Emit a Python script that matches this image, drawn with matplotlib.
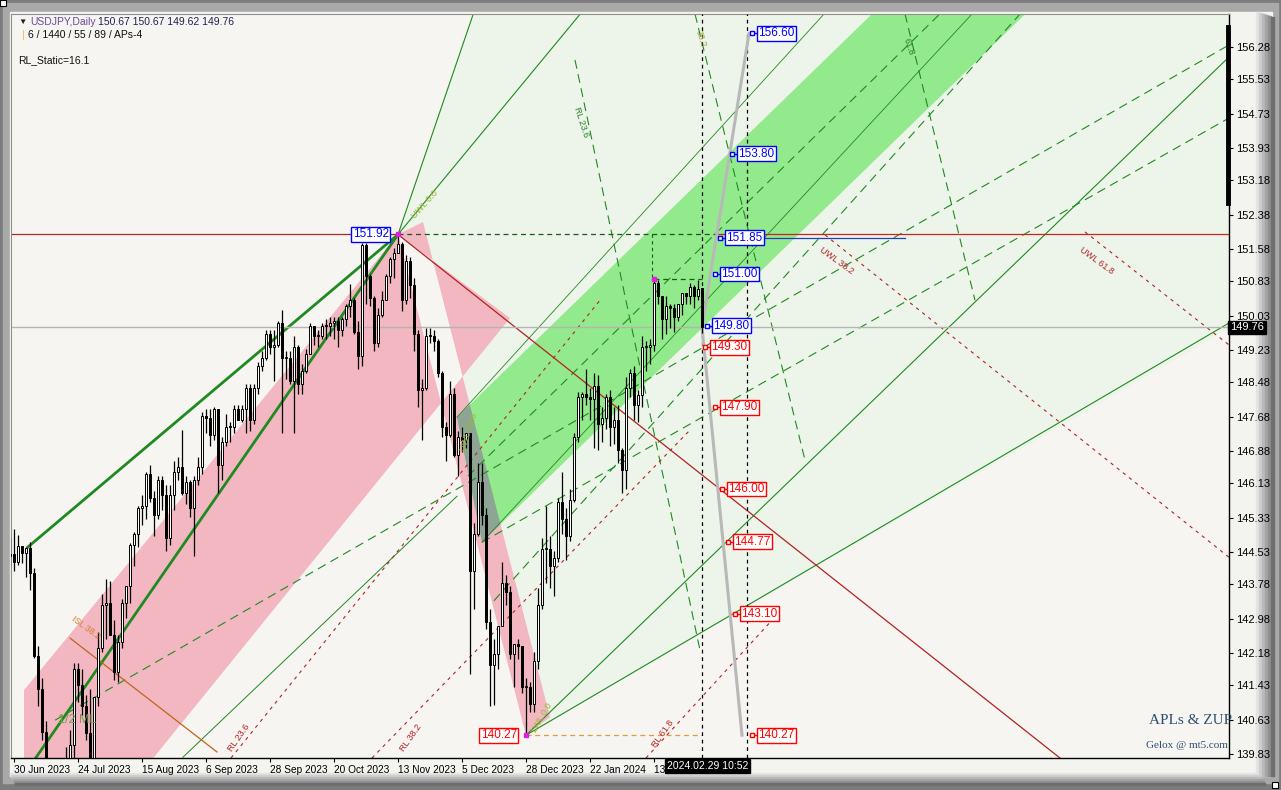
import numpy as np
import pandas as pd
import matplotlib
matplotlib.use("Agg")
import matplotlib.pyplot as plt
from matplotlib.patches import Polygon, Rectangle

# ---- daily bars USDJPY (29 Jun 2023 .. 29 Feb 2024)
dates = [d for d in pd.bdate_range("2023-06-29", "2024-02-29")
         if d.strftime("%m-%d") not in ("12-25", "01-01")]

opens = [144.45, 144.48, 144.30, 144.67, 144.50, 144.62, 144.05, 142.12, 141.35, 140.35,
         138.77, 138.06, 138.80, 138.70, 139.27, 139.70, 140.05, 141.80, 141.45, 140.95,
         140.33, 139.50, 141.15, 142.30, 143.30, 143.35, 142.60, 141.75, 142.45, 143.35,
         143.75, 144.70, 144.95, 145.55, 145.60, 146.35, 145.80, 145.40, 146.20, 145.85,
         144.85, 145.85, 146.40, 146.50, 145.90, 146.15, 145.55, 146.20, 146.50, 147.70,
         147.65, 147.25, 147.85, 146.55, 147.10, 147.45, 147.45, 147.85, 147.60, 147.85,
         148.35, 147.60, 148.35, 148.85, 149.05, 149.60, 149.30, 149.35, 149.85, 149.05,
         149.05, 148.50, 149.30, 148.45, 148.75, 149.15, 149.80, 149.55, 149.55, 149.80,
         149.80, 149.85, 149.90, 149.70, 149.95, 150.25, 150.40, 149.65, 149.10, 151.68,
         150.95, 150.45, 149.40, 150.05, 150.40, 150.95, 151.35, 151.50, 151.70, 150.40,
         151.30, 150.75, 149.60, 148.30, 148.35, 149.55, 149.55, 149.45, 148.70, 147.45,
         147.25, 148.20, 146.80, 147.20, 147.15, 147.30, 144.10, 144.95, 146.15, 145.40,
         142.90, 141.90, 142.15, 142.80, 143.80, 143.60, 142.15, 142.40, 142.35, 141.40,
         141.40, 141.00, 142.00, 143.30, 144.60, 144.60, 144.20, 144.40, 145.70, 145.30,
         144.90, 145.75, 147.20, 148.15, 148.20, 148.15, 148.10, 148.40, 147.50, 147.65,
         148.15, 147.45, 147.60, 146.90, 146.45, 148.35, 148.70, 147.95, 148.18, 149.30,
         149.30, 149.35, 150.80, 150.50, 149.95, 150.25, 150.20, 150.00, 150.30, 150.55,
         150.50, 150.70, 150.50, 150.67]
highs = [144.85, 145.07, 144.92, 144.68, 144.65, 144.77, 144.15, 142.35, 141.60, 140.60,
         139.40, 139.00, 139.25, 139.55, 140.00, 140.40, 141.95, 141.95, 141.80, 141.20,
         141.34, 141.15, 142.67, 143.55, 143.90, 143.85, 142.95, 142.60, 143.45, 143.75,
         144.75, 145.00, 145.60, 145.85, 146.40, 146.56, 145.95, 146.30, 146.30, 146.10,
         146.10, 146.64, 146.75, 147.37, 146.30, 146.20, 146.30, 146.75, 147.80, 147.85,
         147.85, 147.90, 147.85, 147.20, 147.75, 147.55, 147.95, 147.95, 147.95, 148.45,
         148.45, 148.45, 148.95, 149.20, 149.70, 149.70, 149.70, 149.90, 150.16, 149.20,
         149.20, 149.55, 149.35, 148.90, 149.25, 149.85, 149.80, 149.70, 149.85, 149.95,
         150.00, 150.00, 150.00, 150.00, 150.30, 150.77, 150.45, 149.90, 151.72, 151.72,
         151.00, 150.50, 150.20, 150.60, 151.00, 151.40, 151.60, 151.92, 151.75, 151.45,
         151.40, 150.90, 149.70, 148.55, 149.75, 149.75, 149.70, 149.50, 148.75, 147.55,
         148.50, 148.35, 147.35, 147.45, 147.30, 147.30, 145.20, 146.60, 146.60, 145.55,
         143.20, 142.50, 142.80, 144.30, 144.00, 143.75, 142.40, 142.50, 142.35, 141.60,
         141.50, 142.20, 143.70, 144.85, 145.60, 144.90, 144.55, 145.80, 146.40, 145.55,
         146.00, 147.30, 148.25, 148.25, 148.80, 148.35, 148.70, 148.65, 147.90, 148.20,
         148.30, 147.90, 147.95, 146.95, 148.60, 148.80, 148.85, 148.30, 149.55, 149.45,
         149.50, 150.88, 150.85, 150.50, 150.50, 150.30, 150.30, 150.30, 150.55, 150.55,
         150.80, 150.75, 150.85, 150.67]
lows = [144.20, 144.10, 144.24, 144.28, 143.95, 143.65, 142.07, 140.95, 140.17, 138.70,
        137.86, 137.24, 138.45, 138.70, 138.78, 139.35, 139.75, 141.05, 140.75, 140.15,
        138.77, 138.05, 140.95, 142.20, 142.50, 142.65, 141.55, 141.50, 142.30, 143.00,
        143.35, 144.20, 144.65, 145.15, 145.30, 145.70, 144.90, 145.30, 145.50, 144.55,
        144.70, 145.50, 146.20, 145.85, 145.65, 145.35, 144.45, 146.10, 146.35, 147.30,
        147.00, 147.15, 145.90, 146.20, 147.00, 147.10, 147.30, 147.60, 147.55, 147.30,
        147.35, 147.50, 148.20, 148.75, 149.00, 149.15, 148.50, 149.30, 147.30, 148.55,
        148.45, 147.30, 148.20, 148.20, 148.70, 149.15, 149.35, 149.30, 149.50, 149.50,
        149.55, 149.50, 149.30, 149.55, 149.80, 150.00, 149.60, 148.80, 148.85, 150.30,
        150.25, 149.20, 149.30, 150.00, 150.40, 150.80, 150.90, 151.50, 150.15, 150.30,
        150.45, 149.20, 147.90, 147.15, 148.30, 149.40, 149.20, 148.60, 147.20, 146.65,
        147.20, 146.75, 146.30, 146.85, 146.95, 141.70, 143.20, 144.90, 145.15, 142.75,
        140.95, 140.98, 141.80, 142.80, 143.30, 142.05, 141.40, 142.05, 141.25, 140.27,
        140.80, 140.80, 141.80, 143.20, 143.80, 143.70, 143.50, 144.30, 144.95, 144.35,
        144.80, 145.70, 147.10, 147.60, 147.95, 147.60, 146.95, 146.90, 147.10, 147.40,
        147.00, 147.05, 146.60, 145.90, 146.00, 148.15, 147.60, 147.55, 147.90, 148.75,
        148.90, 149.20, 150.30, 149.50, 149.60, 149.75, 149.65, 149.90, 150.05, 150.30,
        150.30, 150.20, 150.40, 149.62]
closes = [144.48, 144.30, 144.67, 144.50, 144.62, 144.05, 142.12, 141.35, 140.35, 138.77,
          138.06, 138.80, 138.70, 139.27, 139.70, 140.05, 141.80, 141.45, 140.95, 140.33,
          139.50, 141.15, 142.30, 143.30, 143.35, 142.60, 141.75, 142.45, 143.35, 143.75,
          144.70, 144.95, 145.55, 145.60, 146.35, 145.80, 145.40, 146.20, 145.85, 144.85,
          145.85, 146.40, 146.50, 145.90, 146.15, 145.55, 146.20, 146.50, 147.70, 147.65,
          147.25, 147.85, 146.55, 147.10, 147.45, 147.45, 147.85, 147.60, 147.85, 148.35,
          147.60, 148.35, 148.85, 149.05, 149.60, 149.30, 149.35, 149.85, 149.05, 149.05,
          148.50, 149.30, 148.45, 148.75, 149.15, 149.80, 149.55, 149.55, 149.80, 149.80,
          149.85, 149.90, 149.70, 149.95, 150.25, 150.40, 149.65, 149.10, 151.68, 150.95,
          150.45, 149.40, 150.05, 150.40, 150.95, 151.35, 151.50, 151.70, 150.40, 151.30,
          150.75, 149.60, 148.30, 148.35, 149.55, 149.55, 149.45, 148.70, 147.45, 147.25,
          148.20, 146.80, 147.20, 147.15, 147.30, 144.10, 144.95, 146.15, 145.40, 142.90,
          141.90, 142.15, 142.80, 143.80, 143.60, 142.15, 142.40, 142.35, 141.40, 141.40,
          141.00, 142.00, 143.30, 144.60, 144.60, 144.20, 144.40, 145.70, 145.30, 144.90,
          145.75, 147.20, 148.15, 148.20, 148.15, 148.10, 148.40, 147.50, 147.65, 148.15,
          147.45, 147.60, 146.90, 146.45, 148.35, 148.70, 147.95, 148.18, 149.30, 149.30,
          149.35, 150.80, 150.50, 149.95, 150.25, 150.20, 150.00, 150.30, 150.55, 150.50,
          150.70, 150.50, 150.65, 149.76]

# right axis ticks and bottom date labels
price_ticks = [156.28, 155.53, 154.73, 153.93, 153.18, 152.38, 151.58, 150.83, 150.03, 149.23,
               148.48, 147.68, 146.88, 146.13, 145.33, 144.53, 143.78, 142.98, 142.18, 141.43,
               140.63, 139.83]
date_labels = ["30 Jun 2023", "24 Jul 2023", "15 Aug 2023", "6 Sep 2023", "28 Sep 2023",
               "20 Oct 2023", "13 Nov 2023", "5 Dec 2023", "28 Dec 2023", "22 Jan 2024", "13 Feb 2024"]

# ZUP / APL objects, anchors as (bar, price)
peak = (96, 151.92)
low = (128, 140.27)
feb_high = (160, 150.88)
pale_zone = [(96, 151.92), (115, 157.2), (305, 157.2), (305, 149.8), (128, 140.27), (110.75, 147.67)]
pink_channel = [(2.5, 141.32), (2.5, 139.3), (31.0, 139.3), (124.0, 149.975), (96, 151.92)]
pink_drop = [(96, 151.92), (128, 140.27), (134.0, 140.69), (102.25, 152.21)]
green_band = [(110.75, 147.67), (117.0, 144.76), (263.3, 158.0), (225.0, 158.0)]
solid_lines = [((3.5, 144.65), (96, 151.92), 2.0), ((4.0, 139.55), (96, 151.92), 2.0),
               ((128, 140.27), (303.75, 156.05), 0.8), ((128, 140.27), (303.75, 149.86), 0.8),
               ((96, 151.92), (115, 157.1), 0.8), ((96, 151.92), (142, 157.1), 0.8),
               ((42.25, 139.76), (110.75, 145.83), 0.7),
               ((117.0, 144.76), (240.0, 157.1), 0.6), ((110.75, 147.67), (203.0, 157.1), 0.6)]
dashed_lines = [((10.25, 140.62), (303.75, 156.33)), ((117.0, 144.76), (303.75, 154.63)),
                ((140.25, 155.98), (171.5, 142.25)), ((170.25, 157.05), (197.75, 146.67)),
                ((222.75, 157.05), (240.25, 150.39)),
                ((113.5, 146.3), (232.0, 157.1)), ((120.0, 143.4), (252.0, 157.1))]
red_dashed = [((202.75, 151.91), (303.75, 144.41)), ((267.75, 151.98), (303.75, 149.35)),
              ((54.25, 139.74), (146.5, 150.39)), ((89.5, 139.74), (169.0, 147.37)),
              ((158.0, 139.74), (192.0, 143.2))]
isl_line = [(14, 142.53), (50.75, 139.88)]
zup_up = [(172, 149.76), (183.75, 156.60)]
zup_down = [(172, 149.76), (182.0, 140.27)]
vlines_at = [172, 183.25]

box_prices = [156.60, 153.80, 151.85, 151.00, 149.80, 149.30, 147.90, 146.00, 144.77, 143.10, 140.27]
box_bars = [185.75, 180.75, 177.75, 176.5, 174.5, 174.0, 176.5, 178.25, 179.75, 181.5, 185.75]
box_colors = ["blue"] * 5 + ["red"] * 6

W, H = 1281, 790
plt.rcParams["font.family"] = ["Liberation Sans", "DejaVu Sans"]
fig = plt.figure(figsize=(W / 100, H / 100), dpi=100)
fig.patch.set_facecolor("#7c7c7c")

bg = fig.add_axes([0, 0, 1, 1])
bg.set_xlim(0, W)
bg.set_ylim(H, 0)
bg.axis("off")
bg.add_patch(Rectangle((3, 3), W - 6, H - 10, color="#a9a9a9"))
bg.add_patch(Rectangle((10, 12), 1262, 764, color="#f3f4ef"))
for i, c in enumerate(["#e4e4e4", "#cfcfcf", "#bababa", "#a5a5a5", "#909090", "#6e6e6e"]):
    bg.add_patch(Rectangle((1256 + 3 * i, 12 + i), 3, 764 - i, color=c))
    bg.add_patch(Rectangle((10 + i, 773 + 2 * i), 1250, 2, color=c))
bg.add_patch(Rectangle((0, 0), 6, 6, fc="white", ec="black", lw=0.8))
bg.add_patch(Rectangle((1272, 782), 6, 6, fc="white", ec="black", lw=0.8))

ax = fig.add_axes([11 / W, 1 - 758 / H, (1229 - 11) / W, (758 - 14) / H])
BACK = "#f6f5f2"
ax.set_facecolor(BACK)
ax.set_xlim(-0.75, 303.75)
ax.set_ylim(139.74, 157.05)


def ccw(poly):
    a = sum(p[0] * q[1] - q[0] * p[1] for p, q in zip(poly, poly[1:] + poly[:1]))
    return list(poly) if a > 0 else list(poly)[::-1]


def clip(subject, clipper):
    # convex polygon intersection (Sutherland-Hodgman)
    out = ccw(subject)
    clipper = ccw(clipper)
    n = len(clipper)
    for i in range(n):
        a, b = clipper[i], clipper[(i + 1) % n]
        inp, out = out, []
        def side(p):
            return (b[0] - a[0]) * (p[1] - a[1]) - (b[1] - a[1]) * (p[0] - a[0])
        for j in range(len(inp)):
            p, q = inp[j], inp[(j + 1) % len(inp)]
            sp, sq = side(p), side(q)
            if sp >= 0:
                out.append(p)
            if sp * sq < 0:
                t = sp / (sp - sq)
                out.append((p[0] + t * (q[0] - p[0]), p[1] + t * (q[1] - p[1])))
        if not out:
            break
    return out


# fills (MT5 draws filled objects xor-style: pink over pink clears, pink over green greys)
ax.add_patch(Polygon(pale_zone, closed=True, fc="#edf5ea", ec="none", zorder=0.5))
ax.add_patch(Polygon(pink_channel, closed=True, fc="#f3b7c1", ec="none", zorder=1))
ax.add_patch(Polygon(pink_drop, closed=True, fc="#f3b7c1", ec="none", zorder=1))
ax.add_patch(Polygon(green_band, closed=True, fc="#92ea8c", ec="none", zorder=1))
both_pink = clip(pink_drop, pink_channel)
if len(both_pink) >= 3:
    ax.add_patch(Polygon(both_pink, closed=True, fc=BACK, ec="none", zorder=1.1))
ov = clip(green_band, pink_drop)
if len(ov) >= 3:
    ax.add_patch(Polygon(ov, closed=True, fc="#8ea596", ec="none", zorder=1.1))

# lines
for p, q, lw in solid_lines:
    ax.plot([p[0], q[0]], [p[1], q[1]], color="#1f8a1f", lw=lw, zorder=2)
for p, q in dashed_lines:
    ax.plot([p[0], q[0]], [p[1], q[1]], color="#1f8a1f", lw=0.8, ls=(0, (8, 5)), zorder=2)
for p, q in red_dashed:
    ax.plot([p[0], q[0]], [p[1], q[1]], color="#b22222", lw=0.8, ls=(0, (3, 4)), zorder=2)
ax.plot(*zip(*isl_line), color="#c0641e", lw=0.9, zorder=2)
ax.plot([peak[0], 265], [peak[1], peak[1] - 0.0736 * (265 - peak[0])], color="#b22222", lw=0.9, zorder=2)
ax.plot([-1, peak[0]], [peak[1], peak[1]], color="#a52a2a", lw=0.9, zorder=2)
ax.plot([peak[0], 176], [peak[1], peak[1]], color="#1a5a1a", lw=0.9, ls=(0, (4, 3)), zorder=2)
ax.plot([176, 304], [peak[1], peak[1]], color="#cc2222", lw=0.9, zorder=2)
ax.plot([178, 222.75], [151.85, 151.85], color="#2040c0", lw=0.9, zorder=2)
ax.plot([feb_high[0], 172], [feb_high[1], feb_high[1]], color="#1a5a1a", lw=0.9, ls=(0, (4, 3)), zorder=2)
ax.plot([159.5, 159.5], [peak[1], feb_high[1]], color="#1a5a1a", lw=0.8, ls=(0, (3, 3)), zorder=2)
ax.plot([low[0], 172], [low[1], low[1]], color="#e09a40", lw=0.9, ls=(0, (4, 3)), zorder=2)
ax.axhline(closes[-1], color="#b4b4b4", lw=1.0, zorder=2)
for v in vlines_at:
    ax.axvline(v, color="black", lw=0.9, ls=(0, (3, 3)), zorder=3)
for seg in (zup_up, zup_down):
    ax.plot([seg[0][0], seg[1][0]], [seg[0][1], seg[1][1]], color="#b8b8b8", lw=2.2, zorder=3)

# candles
xs = np.arange(len(dates)) - 1
o, h, l, c = map(np.array, (opens, highs, lows, closes))
ax.vlines(xs, l, h, color="black", lw=0.9, zorder=4)
up = c >= o
ax.bar(xs[up], np.maximum(c[up] - o[up], 0.02), bottom=o[up], width=0.7,
       color="white", edgecolor="black", lw=0.7, zorder=5)
ax.bar(xs[~up], o[~up] - c[~up], bottom=c[~up], width=0.7,
       color="black", edgecolor="black", lw=0.7, zorder=5)
for pt in (peak, feb_high, low):
    ax.plot(*pt, marker="s", ms=2.5, color="#e020e0", zorder=6)

# price boxes
for pr, bx, col in zip(box_prices, box_bars, box_colors):
    ax.plot([bx - 1.3, bx], [pr, pr], color=col, lw=1, zorder=6)
    ax.plot(bx - 1.3, pr, marker="s", ms=2.5, mfc="white", mec=col, zorder=6)
    ax.text(bx + 0.3, pr, f"{pr:.2f}", color=col, fontsize=8.5, va="center", ha="left", zorder=7,
            bbox=dict(boxstyle="square,pad=0.12", fc="white", ec=col, lw=1))
ax.text(peak[0] - 2.3, peak[1], f"{peak[1]:.2f}", color="blue", fontsize=8.5, va="center", ha="right",
        zorder=7, bbox=dict(boxstyle="square,pad=0.12", fc="white", ec="blue", lw=1))
ax.text(low[0] - 2.3, low[1], f"{low[1]:.2f}", color="red", fontsize=8.5, va="center", ha="right",
        zorder=7, bbox=dict(boxstyle="square,pad=0.12", fc="white", ec="red", lw=1))

# line tags
tag = dict(fontsize=6.5, zorder=6)
ax.text(99, 152.3, "UWL 0.0", rotation=48, color="#9ab832", **tag)
ax.text(139.5, 154.2, "RL 23.6", rotation=-72, color="#2e7d2e", **tag)
ax.text(170, 156.3, "38.2", rotation=-72, color="#a0a040", **tag)
ax.text(222, 156.1, "61.8", rotation=-72, color="#2e7d2e", **tag)
ax.text(201, 151.0, "UWL 38.2", rotation=-36, color="#b22222", **tag)
ax.text(266, 151.0, "UWL 61.8", rotation=-36, color="#b22222", **tag)
ax.text(53, 139.9, "RL 23.6", rotation=55, color="#b22222", **tag)
ax.text(96, 139.9, "RL 38.2", rotation=55, color="#b22222", **tag)
ax.text(159, 140.0, "RL 61.8", rotation=55, color="#b22222", **tag)
ax.text(14, 142.5, "ISL 38.2", rotation=-36, color="#d08030", **tag)
ax.text(111, 146.9, "UWL 23.6", rotation=72, color="#9ab832", **tag)
ax.text(129, 140.35, "LWL 0.0", rotation=60, color="#9ab832", **tag)
ax.text(11, 140.55, "1/2 ML", color="#7a9a50", fontsize=9, zorder=6)

# axes styling
for s in ("top", "left"):
    ax.spines[s].set_color("#909090")
    ax.spines[s].set_linewidth(0.8)
ax.spines["right"].set_linewidth(1.0)
ax.spines["bottom"].set_linewidth(1.0)
ax.yaxis.tick_right()
ax.set_yticks(price_ticks)
ax.set_yticklabels([f"{t:.2f}" for t in price_ticks])
ax.set_xticks(np.arange(0, 161, 16))
ax.set_xticklabels(date_labels, ha="left")
ax.tick_params(axis="y", length=3, width=0.8, labelsize=8, pad=2)
ax.tick_params(axis="x", length=3, width=0.8, labelsize=7.3, pad=2)
ax.plot([303.6, 303.6], [152.65, 156.75], color="black", lw=3.5, clip_on=False, zorder=8)

ax.text(1.0009, closes[-1], f"{closes[-1]:.2f}", transform=ax.get_yaxis_transform(), color="white",
        fontsize=8, va="center", ha="left", bbox=dict(boxstyle="square,pad=0.15", fc="black", ec="black"))
fig.text(667 / W, 1 - 766 / H, "2024.02.29 10:52", color="white", fontsize=7.5, va="center", ha="left",
         zorder=10, bbox=dict(boxstyle="square,pad=0.15", fc="black", ec="black"))

# header and signature
fig.text(18 / W, 1 - 22 / H, "\u25bc", fontsize=6, color="#202020", va="center")
fig.text(30 / W, 1 - 22 / H, "USDJPY,Daily", fontsize=7.5, color="#6a4a9a", va="center")
fig.text(98 / W, 1 - 22 / H, "150.67 150.67 149.62 149.76", fontsize=7.5, color="#202050", va="center")
fig.text(22 / W, 1 - 35 / H, "| ", fontsize=8, color="#e6c84a", va="center")
fig.text(28 / W, 1 - 35 / H, "6 / 1440 / 55 / 89 / APs-4", fontsize=7.5, color="#101010", va="center")
fig.text(18 / W, 1 - 60 / H, "RL_Static=16.1", fontsize=7.5, color="#101010", va="center")
fig.text(1149 / W, 1 - 720 / H, "APLs & ZUP", fontsize=11, color="#2f4f6f", family="Liberation Serif", va="center")
fig.text(1146 / W, 1 - 746 / H, "Gelox @ mt5.com", fontsize=8, color="#2f4f6f", family="Liberation Serif", va="center")

fig.savefig("out.png", dpi=100, facecolor=fig.get_facecolor())
